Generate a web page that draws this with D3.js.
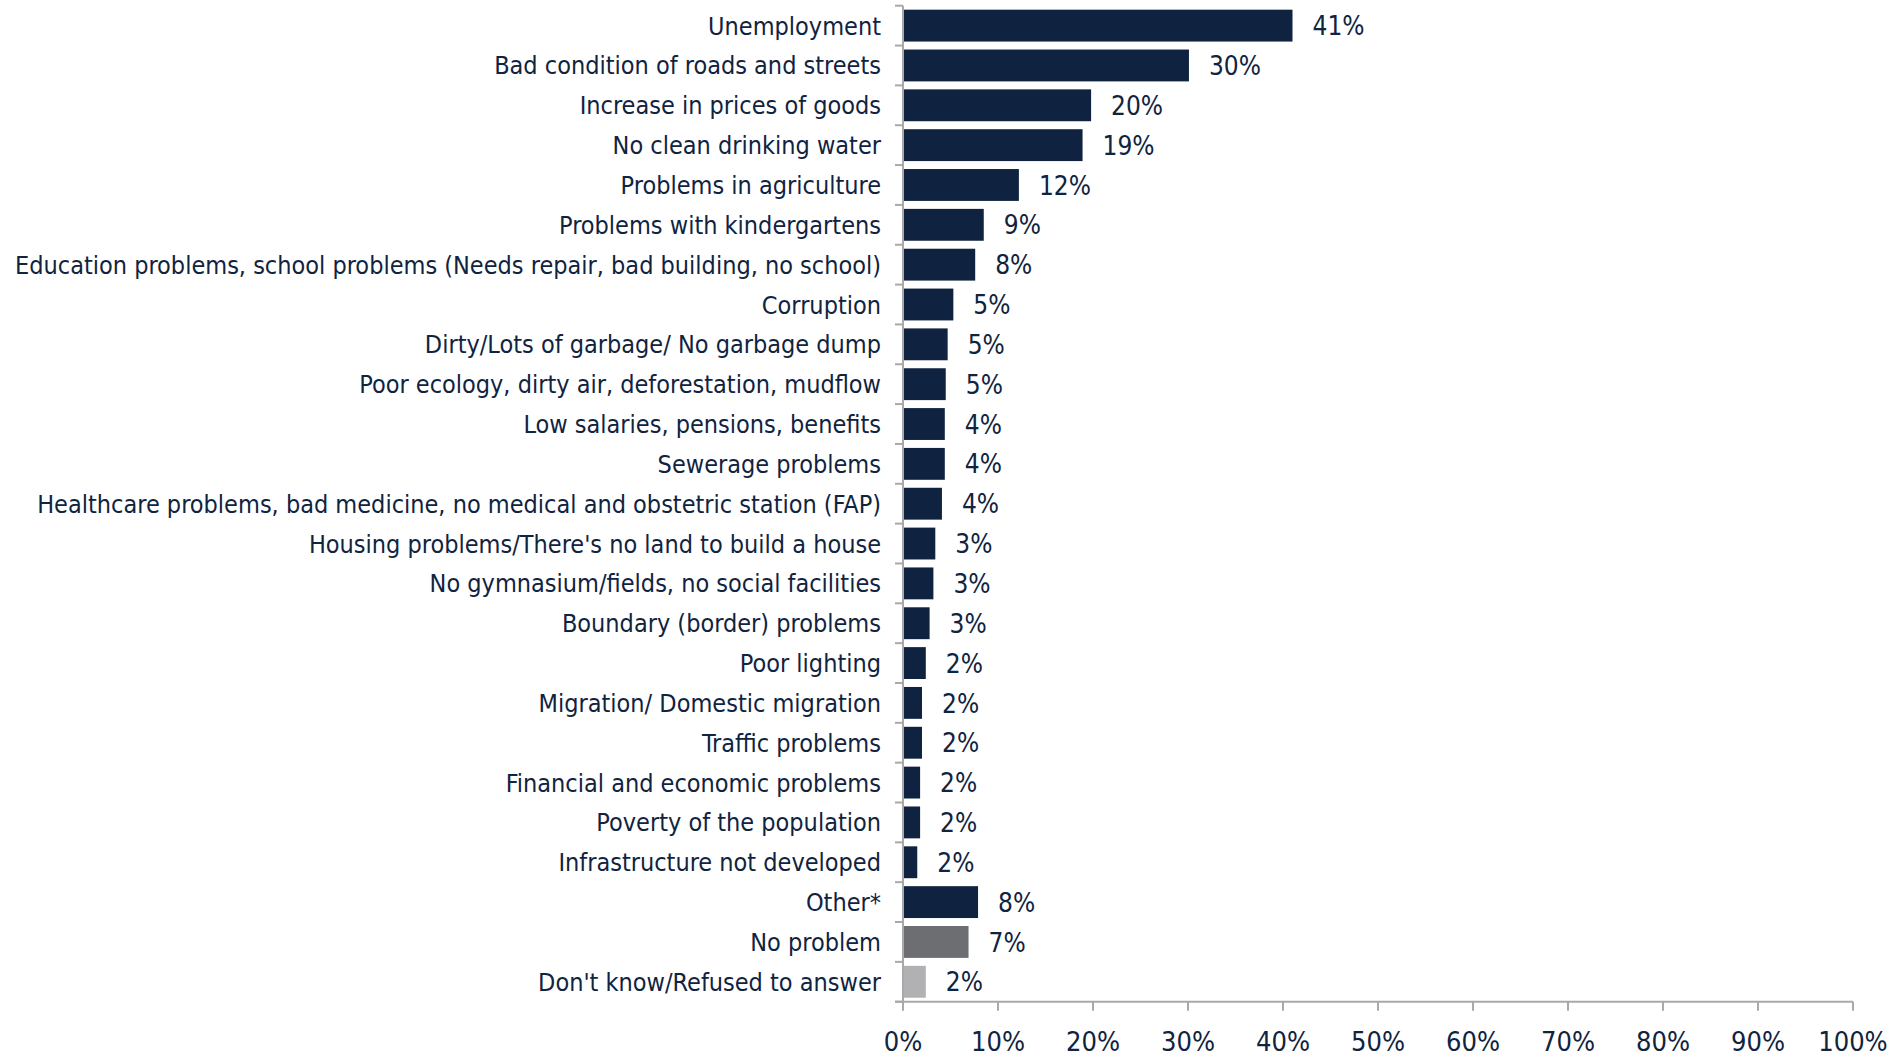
<!DOCTYPE html>
<html>
<head>
<meta charset="utf-8">
<script src="https://d3js.org/d3.v7.min.js"></script>
<style>
  html, body { margin: 0; padding: 0; background: #ffffff; }
  svg { display: block; }
  text { font-family: "DejaVu Sans Condensed", "DejaVu Sans", sans-serif; fill: #10233f; }
</style>
</head>
<body>
<svg id="chart" width="1893" height="1059"></svg>
<script>
const categories = [
  "Unemployment",
  "Bad condition of roads and streets",
  "Increase in prices of goods",
  "No clean drinking water",
  "Problems in agriculture",
  "Problems with kindergartens",
  "Education problems, school problems (Needs repair, bad building, no school)",
  "Corruption",
  "Dirty/Lots of garbage/ No garbage dump",
  "Poor ecology, dirty air, deforestation, mudflow",
  "Low salaries, pensions, benefits",
  "Sewerage problems",
  "Healthcare problems, bad medicine, no medical and obstetric station (FAP)",
  "Housing problems/There's no land to build a house",
  "No gymnasium/fields, no social facilities",
  "Boundary (border) problems",
  "Poor lighting",
  "Migration/ Domestic migration",
  "Traffic problems",
  "Financial and economic problems",
  "Poverty of the population",
  "Infrastructure not developed",
  "Other*",
  "No problem",
  "Don't know/Refused to answer"
];
const values = [41.0, 30.1, 19.8, 18.9, 12.2, 8.5, 7.6, 5.3, 4.7, 4.5, 4.4, 4.4, 4.1, 3.4, 3.2, 2.8, 2.4, 2.0, 2.0, 1.8, 1.8, 1.5, 7.9, 6.9, 2.4];
const valueLabels = ["41%", "30%", "20%", "19%", "12%", "9%", "8%", "5%", "5%", "5%", "4%", "4%", "4%", "3%", "3%", "3%", "2%", "2%", "2%", "2%", "2%", "2%", "8%", "7%", "2%"];
const barGroups = ["problem", "problem", "problem", "problem", "problem", "problem", "problem", "problem", "problem", "problem", "problem", "problem", "problem", "problem", "problem", "problem", "problem", "problem", "problem", "problem", "problem", "problem", "problem", "none", "dk"];
const xTicks = [0, 10, 20, 30, 40, 50, 60, 70, 80, 90, 100];
const xTickLabels = ["0%", "10%", "20%", "30%", "40%", "50%", "60%", "70%", "80%", "90%", "100%"];

const data = categories.map((c, i) => ({ cat: c, value: values[i], label: valueLabels[i], group: barGroups[i] }));

const colors = { problem: "#0f2340", none: "#6d6e71", dk: "#b1b1b3" };
const axisColor = "#a9a9ab";

const margin = { left: 903, right: 40, top: 5.7, bottom: 57.3 };
const W = 1893, H = 1059;
const svg = d3.select("#chart");

const x = d3.scaleLinear().domain([0, 100]).range([margin.left, 1853]);
const y = d3.scaleBand().domain(categories).range([margin.top, H - margin.bottom]).paddingInner(0.2).paddingOuter(0.1);

// bars
svg.append("g").selectAll("rect").data(data).join("rect")
  .attr("x", x(0))
  .attr("y", d => y(d.cat))
  .attr("width", d => x(d.value) - x(0))
  .attr("height", y.bandwidth())
  .attr("fill", d => colors[d.group]);

// value labels
svg.append("g").selectAll("text").data(data).join("text")
  .attr("x", d => x(d.value) + 20)
  .attr("y", d => y(d.cat) + y.bandwidth() / 2)
  .attr("dy", "0.37em")
  .style("font-size", "26px")
  .text(d => d.label);

// y axis line with ticks at band boundaries
const yAxisG = svg.append("g");
const yTop = y.range()[0], yBot = y.range()[1];
yAxisG.append("line")
  .attr("x1", x(0)).attr("x2", x(0))
  .attr("y1", yTop).attr("y2", yBot)
  .attr("stroke", axisColor).attr("stroke-width", 2);
const boundaries = d3.range(categories.length + 1).map(i => yTop + i * y.step());
yAxisG.selectAll("line.tick").data(boundaries).join("line")
  .attr("class", "tick")
  .attr("x1", x(0) - 8).attr("x2", x(0))
  .attr("y1", d => d).attr("y2", d => d)
  .attr("stroke", axisColor).attr("stroke-width", 2);

// category labels
svg.append("g").selectAll("text").data(data).join("text")
  .attr("x", 881)
  .attr("y", d => y(d.cat) + y.bandwidth() / 2)
  .attr("dy", "0.36em")
  .attr("text-anchor", "end")
  .style("font-size", "25px")
  .text(d => d.cat);

// x axis
const xAxisG = svg.append("g");
xAxisG.append("line")
  .attr("x1", x(0) - 8).attr("x2", x(100))
  .attr("y1", yBot).attr("y2", yBot)
  .attr("stroke", axisColor).attr("stroke-width", 2);
xAxisG.selectAll("line.tick").data(xTicks).join("line")
  .attr("class", "tick")
  .attr("x1", d => x(d)).attr("x2", d => x(d))
  .attr("y1", yBot).attr("y2", yBot + 9)
  .attr("stroke", axisColor).attr("stroke-width", 2);
xAxisG.selectAll("text").data(xTicks).join("text")
  .attr("x", d => x(d))
  .attr("y", yBot + 40)
  .attr("dy", "0.36em")
  .attr("text-anchor", "middle")
  .style("font-size", "27px")
  .text((d, i) => xTickLabels[i]);
</script>
</body>
</html>
